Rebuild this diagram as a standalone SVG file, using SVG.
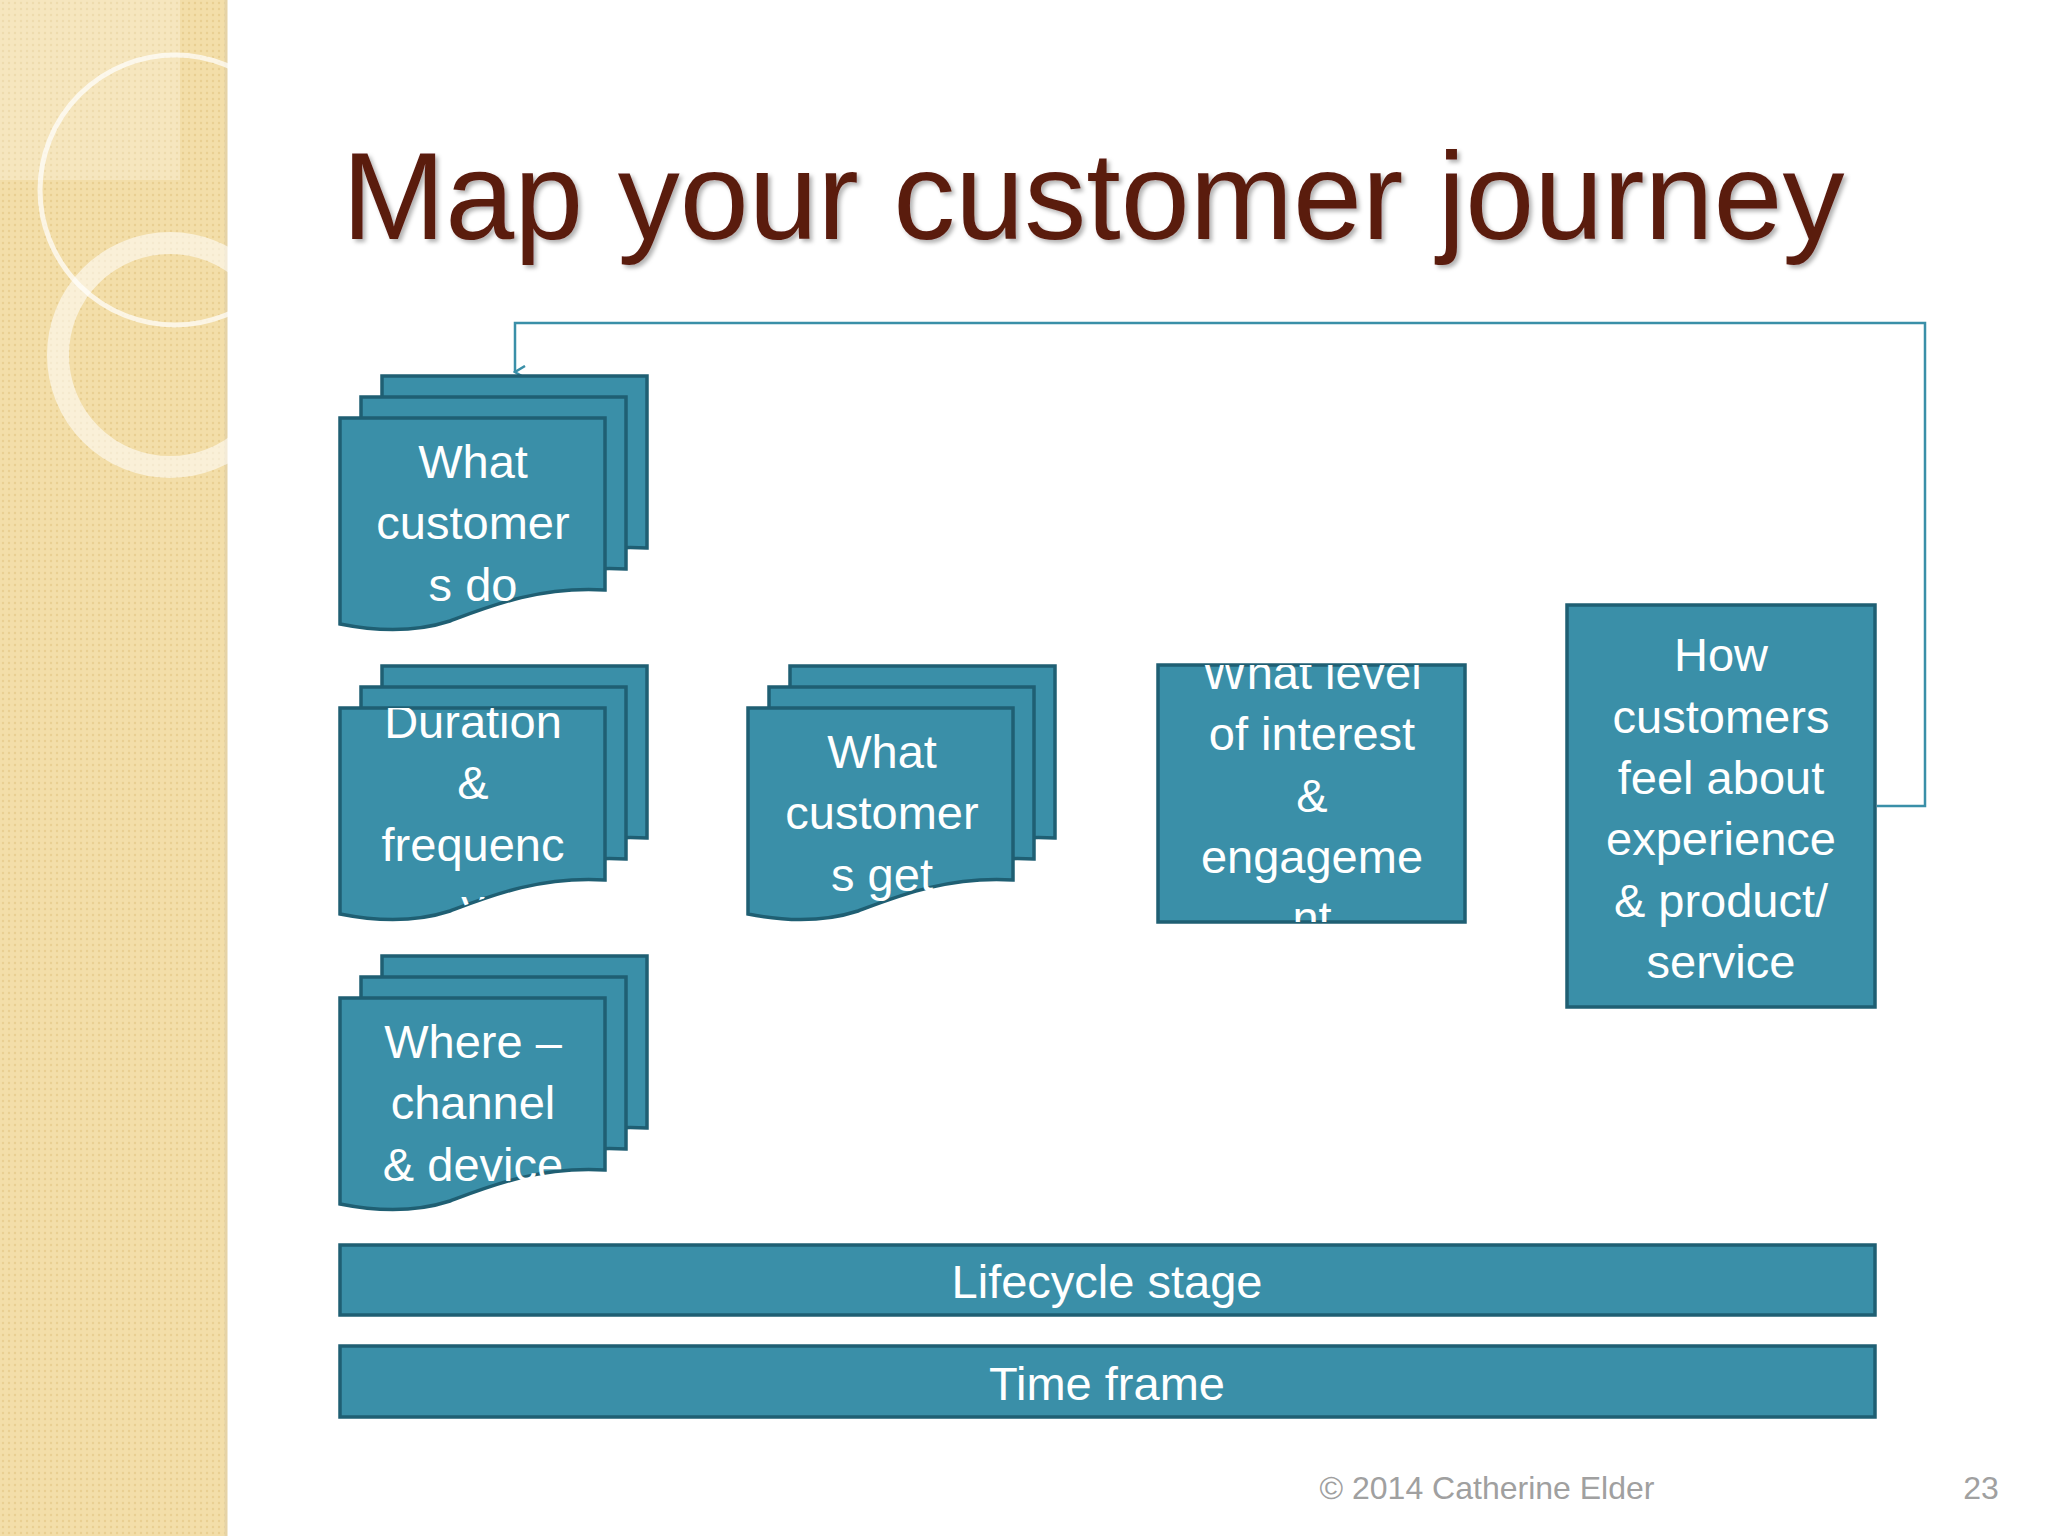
<svg xmlns="http://www.w3.org/2000/svg" width="2048" height="1536" viewBox="0 0 2048 1536">
<defs>
<style>
.sh{fill:#3a8fa8;stroke:#1f5f73;stroke-width:3.5}
.t{font-family:"Liberation Sans",Arial,sans-serif;font-size:47px;fill:#fff;text-anchor:middle;dominant-baseline:central}
.conn{fill:none;stroke:#3a8fa8;stroke-width:2.5}
</style>
<pattern id="dots" width="6" height="6" patternUnits="userSpaceOnUse"><rect width="6" height="6" fill="#f3dea9"/><circle cx="3" cy="3" r="1.2" fill="#e9cf92"/></pattern>
<path id="doc" d="M0,0 H265 V172 C200,168 150,188 110,203 C70,216 30,212 0,206 Z"/>
<clipPath id="c2"><use href="#doc" x="340" y="708"/></clipPath>
<clipPath id="cr"><rect x="1158" y="665" width="307" height="257"/></clipPath>
<marker id="ah" markerWidth="14" markerHeight="14" refX="7" refY="12" orient="auto" markerUnits="userSpaceOnUse"><path d="M1,2 L7,12 L13,2" fill="none" stroke="#3a8fa8" stroke-width="2.5"/></marker>
<filter id="ts"><feDropShadow dx="3" dy="3" stdDeviation="2" flood-color="#000" flood-opacity="0.3"/></filter>
</defs>
<rect width="2048" height="1536" fill="#fff"/>
<rect width="226" height="1536" fill="url(#dots)"/>
<line x1="226" y1="0" x2="226" y2="1536" stroke="#e6d3a6" stroke-width="3"/>
<rect x="0" y="0" width="180" height="180" fill="#fff" opacity="0.25"/>
<circle cx="175" cy="190" r="135" fill="none" stroke="#fff" stroke-width="5" opacity="0.7"/>
<circle cx="170" cy="355" r="112" fill="none" stroke="#fff" stroke-width="22" opacity="0.55"/>
<text x="342" y="239" font-family="Liberation Sans,Arial,sans-serif" font-size="124" fill="#5a1a10" filter="url(#ts)">Map your customer journey</text>
<g id="connectors"><path class="conn" d="M1877,806 H1925 V323 H515 V372" marker-end="url(#ah)"/></g>
<g id="n1"><use href="#doc" class="sh" x="382" y="376"/><use href="#doc" class="sh" x="361" y="397"/><use href="#doc" class="sh" x="340" y="418"/>
<text class="t" x="473" y="461">What</text><text class="t" x="473" y="522">customer</text><text class="t" x="473" y="584">s do</text></g>
<g id="n2"><use href="#doc" class="sh" x="382" y="666"/><use href="#doc" class="sh" x="361" y="687"/><use href="#doc" class="sh" x="340" y="708"/>
<g clip-path="url(#c2)"><text class="t" x="473" y="721">Duration</text><text class="t" x="473" y="782">&amp;</text><text class="t" x="473" y="844">frequenc</text><text class="t" x="473" y="905">y</text></g></g>
<g id="n3"><use href="#doc" class="sh" x="382" y="956"/><use href="#doc" class="sh" x="361" y="977"/><use href="#doc" class="sh" x="340" y="998"/>
<text class="t" x="473" y="1041">Where –</text><text class="t" x="473" y="1102">channel</text><text class="t" x="473" y="1164">&amp; device</text></g>
<g id="n4"><use href="#doc" class="sh" x="790" y="666"/><use href="#doc" class="sh" x="769" y="687"/><use href="#doc" class="sh" x="748" y="708"/>
<text class="t" x="882" y="751">What</text><text class="t" x="882" y="812">customer</text><text class="t" x="882" y="874">s get</text></g>
<g id="n5"><rect class="sh" x="1158" y="665" width="307" height="257"/>
<g clip-path="url(#cr)"><text class="t" x="1312" y="672">What level</text><text class="t" x="1312" y="733">of interest</text><text class="t" x="1312" y="795">&amp;</text><text class="t" x="1312" y="856">engageme</text><text class="t" x="1312" y="917">nt</text></g></g>
<g id="n6"><rect class="sh" x="1567" y="605" width="308" height="402"/>
<text class="t" x="1721" y="654">How</text><text class="t" x="1721" y="716">customers</text><text class="t" x="1721" y="777">feel about</text><text class="t" x="1721" y="838">experience</text><text class="t" x="1721" y="900">&amp; product/</text><text class="t" x="1721" y="961">service</text></g>
<g id="n7"><rect class="sh" x="340" y="1245" width="1535" height="70"/><text class="t" x="1107" y="1281">Lifecycle stage</text></g>
<g id="n8"><rect class="sh" x="340" y="1346" width="1535" height="71"/><text class="t" x="1107" y="1383">Time frame</text></g>
<text x="1487" y="1499" font-family="Liberation Sans,Arial,sans-serif" font-size="32" fill="#a0a0a0" text-anchor="middle">© 2014 Catherine Elder</text>
<text x="1981" y="1499" font-family="Liberation Sans,Arial,sans-serif" font-size="32" fill="#a0a0a0" text-anchor="middle">23</text>
</svg>
